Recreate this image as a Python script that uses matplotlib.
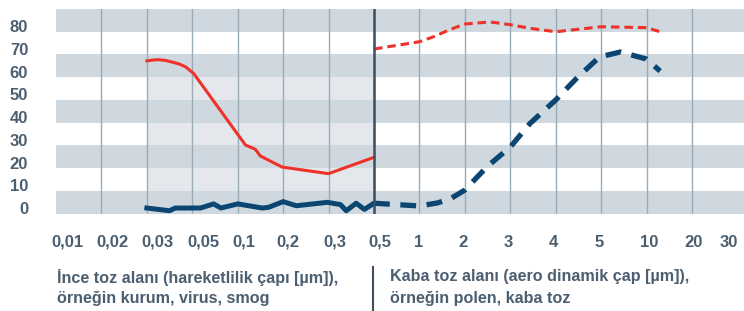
import numpy as np
import matplotlib
matplotlib.use("Agg")
import matplotlib.pyplot as plt
from matplotlib.lines import Line2D
from matplotlib.transforms import ScaledTranslation

# particle size axis (µm), evenly spaced ticks
tick_values = [0.01, 0.02, 0.03, 0.05, 0.1, 0.2, 0.3, 0.5, 1, 2, 3, 4, 5, 10, 20, 30]
tick_labels = ["0,01", "0,02", "0,03", "0,05", "0,1", "0,2", "0,3", "0,5",
               "1", "2", "3", "4", "5", "10", "20", "30"]

# fine dust (solid) and coarse dust (dashed), red and blue curves
fine_red_x = [0.03, 0.0325, 0.0343, 0.037, 0.0405, 0.0435, 0.0463, 0.051, 0.1125, 0.131, 0.141,
              0.197, 0.30, 0.50]
fine_red_y = [64.7, 65.1, 65.2, 64.9, 64.0, 63.2, 62.1, 59.2, 27.7, 25.8, 22.9, 18.0, 15.1, 22.3]

fine_blue_x = [0.03, 0.0387, 0.0413, 0.0567, 0.0692, 0.0774, 0.1, 0.1455, 0.160, 0.2,
               0.225, 0.297, 0.343, 0.366, 0.409, 0.449, 0.5]
fine_blue_y = [0, -1.2, 0, 0, 1.8, 0, 1.8, 0, 0.3, 2.8, 1.0, 2.5, 1.5, -1.2, 2.1, -0.6, 2.1]

coarse_red_x = [0.5, 1, 1.24, 1.6, 2, 2.51, 3, 3.4, 4, 4.43, 5, 10, 12.3]
coarse_red_y = [69.9, 73.1, 75.3, 78.5, 80.9, 81.8, 80.6, 79.0, 77.5, 78.5, 79.7, 79.3, 77.5]

coarse_blue_x = [0.5, 1, 1.31, 1.6, 2, 2.44, 3, 3.4, 4, 4.43, 4.96, 6.7, 10, 12.3]
coarse_blue_y = [2.1, 0.9, 2.2, 4.0, 7.9, 18.2, 26.8, 37.2, 47.5, 57.0, 66.4, 68.6, 65.5, 60.2]

y_ticks = [0, 10, 20, 30, 40, 50, 60, 70, 80]

left_text = ["İnce toz alanı (hareketlilik çapı [µm]),", "örneğin kurum, virus, smog"]
right_text = ["Kaba toz alanı (aero dinamik çap [µm]),", "örneğin polen, kaba toz"]

RED = "#ee3129"
BLUE = "#0b4672"
BAND = "#cfd8df"
LIGHT = "#e4e8ec"
GRID = "#9aabb8"
DIVIDER = "#3d4f60"
TEXT = "#4b5f71"

plt.rcParams["font.family"] = ["Liberation Sans", "DejaVu Sans"]
plt.rcParams["font.weight"] = "bold"

LOG_T = np.log10(tick_values)
POS = np.arange(len(tick_values), dtype=float)
SLOPE = 1.0 / (LOG_T[-1] - LOG_T[-2])


def fwd(x):
    lx = np.log10(np.maximum(x, 1e-9))
    return np.where(lx > LOG_T[-1], POS[-1] + (lx - LOG_T[-1]) * SLOPE,
                    np.interp(lx, LOG_T, POS))


def inv(p):
    p = np.asarray(p, dtype=float)
    lx = np.where(p > POS[-1], LOG_T[-1] + (p - POS[-1]) / SLOPE, np.interp(p, POS, LOG_T))
    return 10 ** lx


W, H = 744, 311
fig = plt.figure(figsize=(W / 100, H / 100), dpi=100)
ax = fig.add_axes([56 / W, 1 - 213.7 / H, (W - 56) / W, (213.7 - 9) / H])
ax.set_xscale("function", functions=(fwd, inv))
ax.set_xlim(0.01, float(inv(15.145)))
ax.set_ylim(-2.5, 87.5)

# horizontal bands
for lo in np.arange(-2.5, 87.5, 20):
    ax.axhspan(lo, lo + 10, color=BAND, lw=0, zorder=1)
# light area under the fine dust range
ax.fill_between([0.03, 0.5], -2.5, 67.5, color=LIGHT, lw=0, zorder=0.5)

for v in tick_values[1:-1]:
    ax.axvline(v, color=GRID, lw=1, zorder=2)
ax.axvline(0.5, color=DIVIDER, lw=1.8, zorder=4)

ax.plot(fine_red_x, fine_red_y, color=RED, lw=2.2, zorder=3, solid_joinstyle="round")
ax.plot(fine_blue_x, fine_blue_y, color=BLUE, lw=3.6, zorder=3, solid_joinstyle="round")
ax.plot(coarse_red_x, coarse_red_y, color=RED, lw=2.2, zorder=3, linestyle=(0, (2.8, 1.6)))
ax.plot(coarse_blue_x, coarse_blue_y, color=BLUE, lw=3.8, zorder=3, linestyle=(0, (3, 2)))

for s in ax.spines.values():
    s.set_visible(False)

ax.set_yticks(y_ticks)
ax.set_yticklabels([str(t) for t in y_ticks])
ax.set_xticks(tick_values)
ax.set_xticklabels(tick_labels)
ax.xaxis.set_minor_locator(matplotlib.ticker.NullLocator())
ax.tick_params(axis="y", length=0, pad=20, labelsize=12, labelcolor=TEXT)
ax.tick_params(axis="x", length=0, pad=15, labelsize=12, labelcolor=TEXT)

# labels sit a little off their grid lines in the original
label_dx = [11, 11, 11, 11, 6, 5, 6, 6, -1, -2, -2, -2, -2, 3, 2, -9]
for lab, dx in zip(ax.get_xticklabels(), label_dx):
    lab.set_transform(lab.get_transform() + ScaledTranslation(dx / 100, 0, fig.dpi_scale_trans))

# captions under the axis
for i, line in enumerate(left_text):
    fig.text(57 / W, 1 - (277 + 21.5 * i) / H, line, va="center", ha="left",
             fontsize=11.6, color=TEXT)
for i, line in enumerate(right_text):
    fig.text(390 / W, 1 - (277 + 21.5 * i) / H, line, va="center", ha="left",
             fontsize=11.6, color=TEXT)
fig.add_artist(Line2D([372.7 / W, 372.7 / W], [1 - 267 / H, 0], color=DIVIDER, lw=1.5))

fig.savefig("out.png", dpi=100)
